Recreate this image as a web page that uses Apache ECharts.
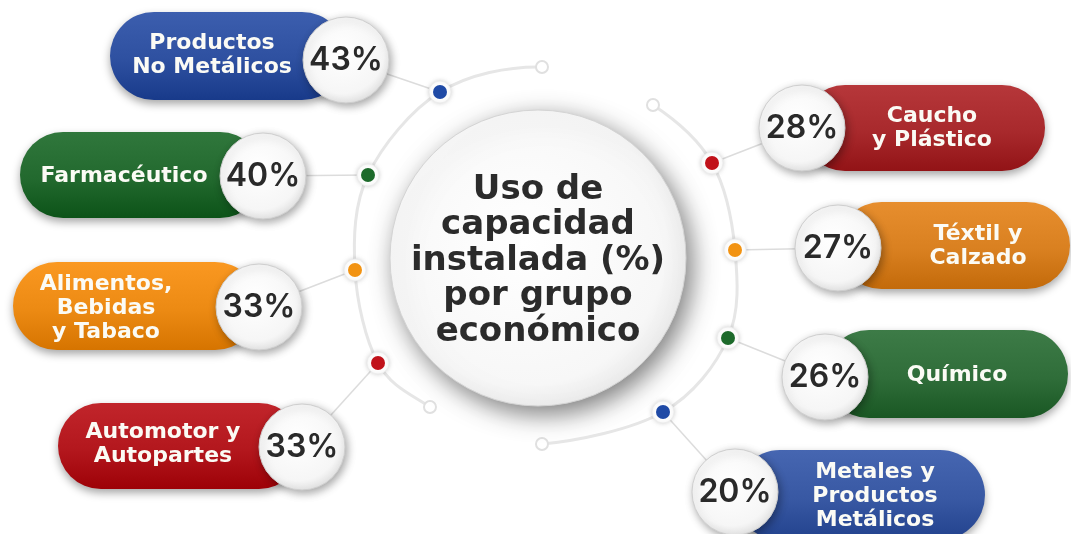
<!DOCTYPE html>
<html>
<head>
<meta charset="utf-8">
<script src="https://cdn.jsdelivr.net/npm/echarts@6/dist/echarts.min.js"></script>
<style>
  html, body { margin: 0; padding: 0; background: #fff; }
  #chart { width: 1071px; height: 534px; }
</style>
</head>
<body>
<div id="chart"></div>
<script>
// 数据
const categories = [
  'Productos\nNo Metálicos',
  'Farmacéutico',
  'Alimentos,\nBebidas\ny Tabaco',
  'Automotor y\nAutopartes',
  'Caucho\ny Plástico',
  'Téxtil y\nCalzado',
  'Químico',
  'Metales y\nProductos\nMetálicos'
]
const values = [43, 40, 33, 33, 28, 27, 26, 20]
const title = 'Uso de\ncapacidad\ninstalada (%)\npor grupo\neconómico'

// 颜色
const pillColors = ['#2e50a0', '#22692e', '#ec8a13', '#b3171d', '#a8292c', '#d98020', '#2f6d39', '#3858a3']
const dotColors = ['#1f4aa6', '#1d6a2b', '#f29312', '#c1121a', '#c1121a', '#f29312', '#1d6a2b', '#1f4aa6']

// 布局 (像素)
const LABEL_FONT = '"DejaVu Sans", Inter, sans-serif'
const NUM_FONT = 'Inter, "Noto Sans", sans-serif'
const center = [538, 258]
const layout = [
  { x: 110, y: 12, w: 236, h: 88, cx: 346, cy: 60, tx: 212, ty: 55, dot: [440, 92] },
  { x: 20, y: 132, w: 243, h: 86, cx: 263, cy: 176, tx: 124, ty: 176, dot: [368, 175] },
  { x: 13, y: 262, w: 246, h: 88, cx: 259, cy: 307, tx: 106, ty: 308, dot: [355, 270] },
  { x: 58, y: 403, w: 244, h: 86, cx: 302, cy: 447, tx: 163, ty: 444, dot: [378, 363] },
  { x: 802, y: 85, w: 243, h: 86, cx: 802, cy: 128, tx: 932, ty: 128, dot: [712, 163] },
  { x: 838, y: 202, w: 232, h: 87, cx: 838, cy: 248, tx: 978, ty: 246, dot: [735, 250] },
  { x: 825, y: 330, w: 243, h: 88, cx: 825, cy: 377, tx: 957, ty: 375, dot: [728, 338] },
  { x: 735, y: 450, w: 250, h: 90, cx: 735, cy: 492, tx: 875, ty: 496, dot: [663, 412] }
]
// 弧线经过的点，首尾两个只作导向，不画
const leftArc = [[640, 96], [542, 67], [440, 92], [368, 175], [355, 270], [378, 363], [430, 407], [505, 446]]
const rightArc = [[571, 70], [653, 105], [712, 163], [735, 250], [728, 338], [663, 412], [542, 444], [458, 430]]

function shade(hex, amt) {
  let n = parseInt(hex.slice(1), 16)
  let r = Math.max(0, Math.min(255, (n >> 16) + amt))
  let g = Math.max(0, Math.min(255, ((n >> 8) & 255) + amt))
  let b = Math.max(0, Math.min(255, (n & 255) + amt))
  return 'rgb(' + r + ',' + g + ',' + b + ')'
}

// 平滑弧线 (Catmull-Rom 转贝塞尔分段)
function smoothCurves(p, style) {
  let out = []
  for (let i = 1; i < p.length - 2; i++) {
    out.push({
      type: 'bezierCurve', z: 0, style: style,
      shape: {
        x1: p[i][0], y1: p[i][1], x2: p[i + 1][0], y2: p[i + 1][1],
        cpx1: p[i][0] + (p[i + 1][0] - p[i - 1][0]) / 6,
        cpy1: p[i][1] + (p[i + 1][1] - p[i - 1][1]) / 6,
        cpx2: p[i + 1][0] - (p[i + 2][0] - p[i][0]) / 6,
        cpy2: p[i + 1][1] - (p[i + 2][1] - p[i][1]) / 6
      }
    })
  }
  return out
}

const chart = echarts.init(document.getElementById('chart'), null, { renderer: 'canvas' })

// 背景装饰：弧线 + 中心圆
const arcStyle = { stroke: '#e6e6e6', lineWidth: 3, fill: null }
const endCircle = (p) => ({
  type: 'circle', shape: { cx: p[0], cy: p[1], r: 6 },
  style: { fill: '#fff', stroke: '#e0e0e0', lineWidth: 2 }, z: 1
})
const graphics = [].concat(
  smoothCurves(leftArc, arcStyle),
  smoothCurves(rightArc, arcStyle),
  [
    endCircle(leftArc[1]), endCircle(leftArc[leftArc.length - 2]),
    endCircle(rightArc[1]), endCircle(rightArc[rightArc.length - 2]),
    {
      type: 'circle', shape: { cx: center[0], cy: center[1], r: 148 }, z: 2,
      style: {
        fill: new echarts.graphic.RadialGradient(0.45, 0.45, 0.6, [
          { offset: 0, color: '#ffffff' }, { offset: 0.8, color: '#f7f7f7' }, { offset: 1, color: '#e8e8e8' }
        ]),
        stroke: '#d4d4d4', lineWidth: 1,
        shadowBlur: 24, shadowColor: 'rgba(0,0,0,0.5)', shadowOffsetX: 6, shadowOffsetY: 8
      }
    },
    {
      type: 'text', z: 3,
      style: {
        text: title, x: center[0], y: center[1] + 3, align: 'center', verticalAlign: 'middle',
        fill: '#2b2b2b', fontSize: 34, fontWeight: 'bold', fontFamily: LABEL_FONT, lineHeight: 35.5
      }
    }
  ]
)

function renderItem(params, api) {
  let i = api.value(0)
  let v = api.value(1)
  let L = layout[i]
  let col = pillColors[i]
  let children = []
  // 连接线
  children.push({
    type: 'line', shape: { x1: L.dot[0], y1: L.dot[1], x2: L.cx, y2: L.cy },
    style: { stroke: '#dcdcdc', lineWidth: 1.5 }
  })
  // 圆点
  children.push({
    type: 'circle', shape: { cx: L.dot[0], cy: L.dot[1], r: 11 },
    style: { fill: '#fff', stroke: '#ececec', lineWidth: 1, shadowBlur: 4, shadowColor: 'rgba(0,0,0,0.15)' }
  })
  children.push({
    type: 'circle', shape: { cx: L.dot[0], cy: L.dot[1], r: 7 },
    style: { fill: dotColors[i] }
  })
  // 胶囊
  children.push({
    type: 'rect', shape: { x: L.x, y: L.y, width: L.w, height: L.h, r: L.h / 2 },
    style: {
      fill: new echarts.graphic.LinearGradient(0, 0, 0, 1, [
        { offset: 0, color: shade(col, 14) }, { offset: 0.55, color: col }, { offset: 1, color: shade(col, -22) }
      ]),
      shadowBlur: 8, shadowColor: 'rgba(0,0,0,0.35)', shadowOffsetY: 4
    }
  })
  children.push({
    type: 'text',
    style: {
      text: categories[i], x: L.tx, y: L.ty, align: 'center', verticalAlign: 'middle',
      fill: '#fbfbf5', fontSize: 22, fontWeight: 'bold', fontFamily: LABEL_FONT, lineHeight: 24
    }
  })
  // 百分比气泡
  children.push({
    type: 'circle', shape: { cx: L.cx, cy: L.cy, r: 43 },
    style: {
      fill: new echarts.graphic.RadialGradient(0.45, 0.4, 0.65, [
        { offset: 0, color: '#ffffff' }, { offset: 0.75, color: '#f6f6f6' }, { offset: 1, color: '#dedede' }
      ]),
      stroke: '#cfcfcf', lineWidth: 1,
      shadowBlur: 8, shadowColor: 'rgba(0,0,0,0.35)', shadowOffsetX: 2, shadowOffsetY: 3
    }
  })
  children.push({
    type: 'text',
    style: {
      text: v + '%', x: L.cx, y: L.cy, align: 'center', verticalAlign: 'middle',
      fill: '#2a2a2a', fontSize: 32, fontWeight: 600, fontFamily: NUM_FONT
    }
  })
  return { type: 'group', children: children }
}

chart.setOption({
  backgroundColor: '#ffffff',
  animation: false,
  graphic: graphics,
  series: [{
    type: 'custom',
    coordinateSystem: 'none',
    silent: true,
    z: 5,
    data: values.map((v, i) => [i, v]),
    renderItem: renderItem
  }]
})
</script>
</body>
</html>
